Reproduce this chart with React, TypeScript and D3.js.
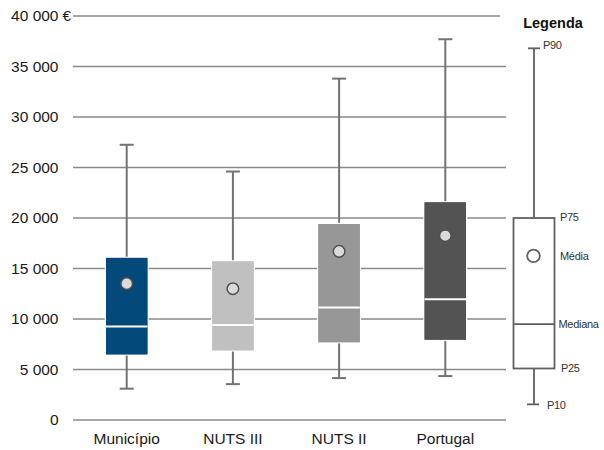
import React from "react";
import * as d3 from "d3";

const categories = ["Município", "NUTS III", "NUTS II", "Portugal"];
const p10 = [3100, 3550, 4150, 4350];
const p25 = [6500, 6900, 7700, 7950];
const median = [9250, 9400, 11150, 11950];
const mean = [13500, 13000, 16700, 18250];
const p75 = [16050, 15700, 19400, 21550];
const p90 = [27250, 24600, 33800, 37700];
const boxColors = ["#03497a", "#c0c0c0", "#979797", "#545354"];

const yTicks = [0, 5000, 10000, 15000, 20000, 25000, 30000, 35000, 40000];
const currencySymbol = "€";

const legendTitle = "Legenda";
const legendKeys = ["P10", "P25", "Mediana", "Média", "P75", "P90"];
const legendValues = [1550, 5100, 9500, 16250, 20000, 36800];

const W = 604;
const H = 450;
const FONT = "Liberation Sans, Arial, Helvetica, sans-serif";

export default function App() {
  const y = d3.scaleLinear().domain([0, 40000]).range([420, 16]);
  const x = d3.scalePoint<string>().domain(categories).range([73.6, 498.4]).padding(0.5);
  const boxW = x.step() * 0.39;
  const capW = 14;
  const locale = d3.formatLocale({ decimal: ",", thousands: " ", grouping: [3], currency: ["", " €"] });
  const fmt = locale.format(",d");

  const lv = (k: string) => legendValues[legendKeys.indexOf(k)];
  const lcx = 534;
  const lboxW = 41;

  return (
    <svg width={W} height={H} style={{ position: "absolute", left: 0, top: 0, background: "#fff" }} fontFamily={FONT}>
      {/* gridlines */}
      {yTicks.map((t) => (
        <line key={"g" + t} x1={73} x2={t === 40000 ? 500 : 506} y1={y(t)} y2={y(t)} stroke="#8a8a8a" strokeWidth={1.6} />
      ))}
      {/* y tick labels */}
      {yTicks.map((t) => (
        <text key={"t" + t} x={58.5} y={y(t)} dy="0.35em" textAnchor="end" fontSize={15.5} fill="#1a1a1a">
          {fmt(t)}
        </text>
      ))}
      <text x={62.5} y={y(40000)} dy="0.35em" fontSize={15.5} fill="#1a1a1a">
        {currencySymbol}
      </text>

      {/* boxes */}
      {categories.map((c, i) => {
        const cx = x(c) as number;
        return (
          <g key={c}>
            <line x1={cx} x2={cx} y1={y(p90[i])} y2={y(p75[i])} stroke="#737373" strokeWidth={2} />
            <line x1={cx} x2={cx} y1={y(p25[i])} y2={y(p10[i])} stroke="#737373" strokeWidth={2} />
            <line x1={cx - capW / 2} x2={cx + capW / 2} y1={y(p90[i])} y2={y(p90[i])} stroke="#737373" strokeWidth={2} />
            <line x1={cx - capW / 2} x2={cx + capW / 2} y1={y(p10[i])} y2={y(p10[i])} stroke="#737373" strokeWidth={2} />
            <rect
              x={cx - boxW / 2}
              y={y(p75[i])}
              width={boxW}
              height={y(p25[i]) - y(p75[i])}
              fill={boxColors[i]}
              stroke="#fff"
              strokeWidth={2.5}
              paintOrder="stroke"
            />
            <rect x={cx - boxW / 2} y={y(p75[i])} width={boxW} height={y(p25[i]) - y(p75[i])} fill={boxColors[i]} />
            <line x1={cx - boxW / 2} x2={cx + boxW / 2} y1={y(median[i])} y2={y(median[i])} stroke="#fff" strokeWidth={2} />
            <circle cx={cx} cy={y(mean[i])} r={5.8} fill="#dadada" stroke="#505050" strokeWidth={1.5} />
          </g>
        );
      })}

      {/* x labels */}
      {categories.map((c) => (
        <text key={"x" + c} x={x(c) as number} y={444} textAnchor="middle" fontSize={15.5} fill="#1a1a1a">
          {c}
        </text>
      ))}

      {/* legend */}
      <text x={553} y={28} textAnchor="middle" fontSize={14.5} fontWeight="bold" fill="#111">
        {legendTitle}
      </text>
      <g stroke="#606060" strokeWidth={1.8} fill="none">
        <line x1={lcx} x2={lcx} y1={y(lv("P90"))} y2={y(lv("P75"))} />
        <line x1={lcx} x2={lcx} y1={y(lv("P25"))} y2={y(lv("P10"))} />
        <line x1={lcx - 6} x2={lcx + 6} y1={y(lv("P90"))} y2={y(lv("P90"))} />
        <line x1={lcx - 7} x2={lcx + 5} y1={y(lv("P10"))} y2={y(lv("P10"))} />
        <rect x={lcx - lboxW / 2} y={y(lv("P75"))} width={lboxW} height={y(lv("P25")) - y(lv("P75"))} fill="#fff" />
        <line x1={lcx - lboxW / 2} x2={lcx + lboxW / 2} y1={y(lv("Mediana"))} y2={y(lv("Mediana"))} />
        <circle cx={lcx - 0.5} cy={y(lv("Média"))} r={6.3} />
      </g>
      <g fontSize={11} fill="#333" letterSpacing={-0.3}>
        <text x={543} y={y(lv("P90")) - 3} dy="0.35em">P90</text>
        <text x={560} y={y(lv("P75")) - 1} dy="0.35em">P75</text>
        <text x={560} y={y(lv("Média"))} dy="0.35em">Média</text>
        <text x={558.5} y={y(lv("Mediana"))} dy="0.35em">Mediana</text>
        <text x={561} y={y(lv("P25"))} dy="0.35em">P25</text>
        <text x={547} y={y(lv("P10")) + 1} dy="0.35em">P10</text>
      </g>
    </svg>
  );
}
